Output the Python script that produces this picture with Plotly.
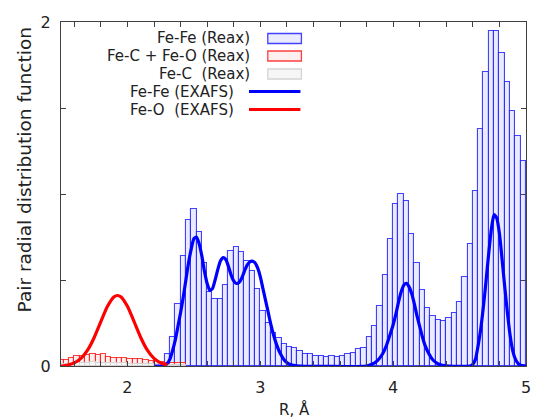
import plotly.graph_objects as go

# ---------------- data ----------------
bin_width = 0.04

fefe_r = [2.30, 2.34, 2.38, 2.42, 2.46, 2.50, 2.54, 2.58, 2.62, 2.66, 2.70, 2.74, 2.78, 2.82,
          2.86, 2.90, 2.94, 2.98, 3.02, 3.06, 3.10, 3.14, 3.18, 3.22, 3.26, 3.30, 3.34, 3.38,
          3.42, 3.46, 3.50, 3.54, 3.58, 3.62, 3.66, 3.70, 3.74, 3.78, 3.82, 3.86, 3.90, 3.94,
          3.98, 4.02, 4.06, 4.10, 4.14, 4.18, 4.22, 4.26, 4.30, 4.34, 4.38, 4.42, 4.46, 4.50,
          4.54, 4.58, 4.62, 4.66, 4.70, 4.74, 4.78, 4.82, 4.86, 4.90, 4.94, 4.98]
fefe_g = [0.07, 0.17, 0.36, 0.64, 0.85, 0.91, 0.78, 0.60, 0.43, 0.39, 0.39, 0.47, 0.67, 0.69,
          0.66, 0.61, 0.55, 0.45, 0.32, 0.25, 0.19, 0.16, 0.128, 0.109, 0.103, 0.089, 0.072, 0.068,
          0.058, 0.058, 0.054, 0.060, 0.054, 0.058, 0.070, 0.077, 0.099, 0.107, 0.167, 0.23, 0.35, 0.53,
          0.74, 0.94, 1.00, 0.96, 0.77, 0.60, 0.44, 0.34, 0.29, 0.27, 0.26, 0.28, 0.31, 0.37,
          0.52, 0.71, 1.02, 1.38, 1.71, 1.95, 1.95, 1.82, 1.65, 1.48, 1.34, 1.19]

fec_feo_r = [1.50, 1.54, 1.58, 1.62, 1.66, 1.70, 1.74, 1.78, 1.82, 1.86, 1.90, 1.94,
             1.98, 2.02, 2.06, 2.10, 2.14, 2.18, 2.22, 2.26, 2.30, 2.34, 2.38, 2.42]
fec_feo_g = [0.033, 0.033, 0.045, 0.056, 0.059, 0.062, 0.070, 0.065, 0.070, 0.050, 0.048, 0.048,
             0.047, 0.039, 0.039, 0.039, 0.035, 0.032, 0.030, 0.024, 0.020, 0.020, 0.020, 0.016]

fec_r = fec_feo_r
fec_g = [0.010, 0.010, 0.012, 0.015, 0.018, 0.020, 0.022, 0.020, 0.020, 0.018, 0.016, 0.015,
         0.015, 0.013, 0.012, 0.012, 0.011, 0.010, 0.010, 0.009, 0.008, 0.008, 0.008, 0.006]

exafs_fefe_r = [2.20, 2.25, 2.28, 2.30, 2.32, 2.34, 2.36, 2.38, 2.40, 2.42, 2.44, 2.46, 2.48, 2.50,
                2.52, 2.54, 2.56, 2.58, 2.60, 2.62, 2.64, 2.66, 2.68, 2.70, 2.72, 2.74, 2.76, 2.78,
                2.80, 2.82, 2.84, 2.86, 2.88, 2.90, 2.92, 2.94, 2.96, 2.98, 3.00, 3.02, 3.04, 3.06,
                3.08, 3.10, 3.12, 3.14, 3.16, 3.18, 3.20, 3.22, 3.25, 3.30,
                3.80, 3.84, 3.88, 3.92, 3.95, 3.98, 4.00, 4.02, 4.04, 4.06, 4.08, 4.10, 4.12, 4.14,
                4.16, 4.18, 4.20, 4.22, 4.24, 4.27, 4.30, 4.34, 4.38, 4.42,
                4.58, 4.60, 4.62, 4.64, 4.66, 4.68, 4.70, 4.72, 4.74, 4.76, 4.78, 4.80, 4.82, 4.84,
                4.86, 4.88, 4.90, 4.92, 4.94, 4.96, 5.00]
exafs_fefe_g = [0.0, 0.0, 0.005, 0.015, 0.04, 0.09, 0.15, 0.23, 0.31, 0.40, 0.50, 0.60, 0.68, 0.74,
                0.75, 0.71, 0.64, 0.55, 0.48, 0.44, 0.45, 0.50, 0.56, 0.61, 0.63, 0.62, 0.58, 0.53,
                0.495, 0.48, 0.485, 0.51, 0.55, 0.585, 0.605, 0.61, 0.60, 0.57, 0.52, 0.45, 0.38, 0.31,
                0.24, 0.18, 0.13, 0.09, 0.06, 0.035, 0.02, 0.01, 0.004, 0.0,
                0.0, 0.01, 0.03, 0.07, 0.12, 0.19, 0.24, 0.30, 0.37, 0.43, 0.47, 0.48, 0.46, 0.42,
                0.36, 0.29, 0.23, 0.17, 0.12, 0.07, 0.035, 0.012, 0.003, 0.0,
                0.0, 0.01, 0.04, 0.12, 0.22, 0.35, 0.50, 0.66, 0.80, 0.88, 0.86, 0.77, 0.62, 0.46,
                0.31, 0.18, 0.09, 0.04, 0.015, 0.004, 0.0]

exafs_feo_r = [1.50, 1.55, 1.60, 1.65, 1.70, 1.75, 1.80, 1.85, 1.90, 1.925, 1.95, 2.00, 2.05,
               2.10, 2.15, 2.20, 2.25, 2.30]
exafs_feo_g = [0.0, 0.006, 0.018, 0.044, 0.092, 0.166, 0.258, 0.347, 0.403, 0.41, 0.403, 0.347, 0.258,
               0.166, 0.092, 0.044, 0.018, 0.005]

legend_labels = ["Fe-Fe (Reax)", "Fe-C + Fe-O (Reax)", "Fe-C  (Reax)", "Fe-Fe (EXAFS)", "Fe-O  (EXAFS)"]

x_tickvals = [1.6, 1.8, 2.0, 2.2, 2.4, 2.6, 2.8, 3.0, 3.2, 3.4, 3.6, 3.8, 4.0, 4.2, 4.4, 4.6, 4.8, 5.0]
x_ticktext = ["", "", "2", "", "", "", "", "3", "", "", "", "", "4", "", "", "", "", "5"]
y_tickvals = [0, 0.5, 1.0, 1.5, 2.0]
y_ticktext = ["0", "", "", "", "2"]

# ---------------- figure ----------------
FONT = "DejaVu Sans"
W, H = 539, 419
L, R, T, B = 61, 8, 22, 53
PLOT_L, PLOT_R, PLOT_T, PLOT_B = L, W - R, T, H - B


def px2paper(px, py):
    return (px - PLOT_L) / (PLOT_R - PLOT_L), (PLOT_B - py) / (PLOT_B - PLOT_T)


BLUE_FILL, BLUE_EDGE = "#ebebff", "rgba(20,20,255,0.8)"
RED_FILL, RED_EDGE = "#fff0f0", "rgba(255,0,0,0.75)"
GRAY_FILL, GRAY_EDGE = "#f6f6f6", "#d4d4d4"

fig = go.Figure()

fig.add_trace(go.Bar(x=fefe_r, y=fefe_g, width=bin_width,
                     marker=dict(color=BLUE_FILL, line=dict(color=BLUE_EDGE, width=1.1)),
                     showlegend=False))
fig.add_trace(go.Bar(x=fec_feo_r, y=fec_feo_g, width=bin_width,
                     marker=dict(color=RED_FILL, line=dict(color=RED_EDGE, width=1.1)),
                     showlegend=False))
fig.add_trace(go.Bar(x=fec_r, y=fec_g, width=bin_width,
                     marker=dict(color=GRAY_FILL, line=dict(color=GRAY_EDGE, width=1.0)),
                     showlegend=False))
fig.add_trace(go.Scatter(x=exafs_fefe_r, y=exafs_fefe_g, mode="lines",
                         line=dict(color="#0000ff", width=3.2, shape="spline", smoothing=0.6),
                         showlegend=False))
fig.add_trace(go.Scatter(x=exafs_feo_r, y=exafs_feo_g, mode="lines",
                         line=dict(color="#ff0000", width=3.2, shape="spline", smoothing=0.6),
                         showlegend=False))

axis_common = dict(showline=True, linecolor="#404040", linewidth=1, mirror="ticks",
                   ticks="inside", ticklen=5, tickcolor="#404040", tickwidth=1,
                   showgrid=False, zeroline=False,
                   tickfont=dict(family=FONT, size=16, color="#222"))
fig.update_xaxes(range=[1.5, 5.0], tickvals=x_tickvals, ticktext=x_ticktext,
                 ticklabelstandoff=7, **axis_common)
fig.update_yaxes(range=[0, 2.0], tickvals=y_tickvals, ticktext=y_ticktext,
                 ticklabelstandoff=6, **axis_common)

annotations = []
# axis titles
xa, ya = px2paper(297, 409)
annotations.append(dict(text="R, Å", xref="paper", yref="paper", x=xa, y=ya,
                        xanchor="center", yanchor="middle", showarrow=False,
                        font=dict(family=FONT, size=15, color="#222")))
xa, ya = px2paper(24, 170)
annotations.append(dict(text="Pair radial distribution function", xref="paper", yref="paper",
                        x=xa, y=ya, xanchor="center", yanchor="middle", textangle=-90,
                        showarrow=False, font=dict(family=FONT, size=18.5, color="#222")))

# legend
row_y = [38.5, 56, 74, 91.5, 109.5]
text_right = [254, 254, 254, 238, 238]
shapes = []
for lab, ry, tr in zip(legend_labels, row_y, text_right):
    xa, ya = px2paper(tr, ry)
    annotations.append(dict(text=lab, xref="paper", yref="paper", x=xa, y=ya,
                            xanchor="right", yanchor="middle", showarrow=False,
                            font=dict(family=FONT, size=15, color="#222")))

box_styles = [(BLUE_FILL, BLUE_EDGE), (RED_FILL, RED_EDGE), (GRAY_FILL, GRAY_EDGE)]
for (fill, edge), ry in zip(box_styles, row_y[:3]):
    x0, y0 = px2paper(270, ry + 5)
    x1, y1 = px2paper(304, ry - 5)
    shapes.append(dict(type="rect", xref="paper", yref="paper", x0=x0, y0=y0, x1=x1, y1=y1,
                       fillcolor=fill, line=dict(color=edge, width=1.3)))
for col, ry in zip(["#0000ff", "#ff0000"], row_y[3:]):
    x0, y0 = px2paper(251, ry)
    x1, _ = px2paper(303, ry)
    shapes.append(dict(type="line", xref="paper", yref="paper", x0=x0, y0=y0, x1=x1, y1=y0,
                       line=dict(color=col, width=3.2)))

fig.update_layout(width=W, height=H, margin=dict(l=L, r=R, t=T, b=B),
                  paper_bgcolor="white", plot_bgcolor="white",
                  barmode="overlay", bargap=0,
                  annotations=annotations, shapes=shapes,
                  font=dict(family=FONT))

# remove the default 8px page margin so the figure fills the window exactly
fig.write_html("out.html", config={"displayModeBar": False},
               post_script="document.body.style.margin='0';document.body.style.overflow='hidden';")
